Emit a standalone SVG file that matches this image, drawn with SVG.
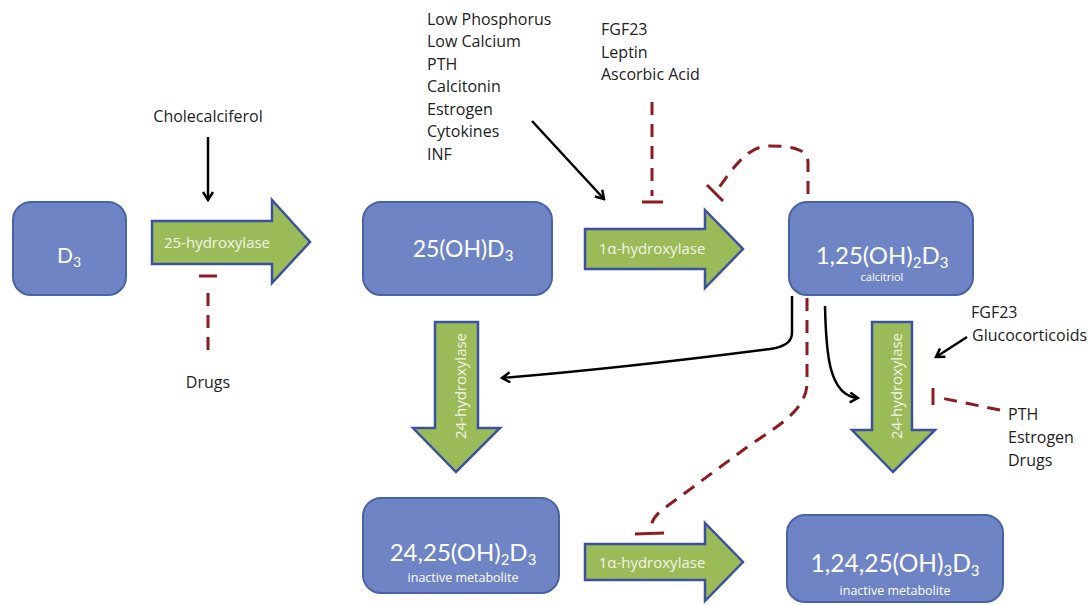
<svg xmlns="http://www.w3.org/2000/svg" width="1091" height="605" viewBox="0 0 1091 605">
<defs>
<style>
.box{fill:#6e84c5;stroke:#4a62a6;stroke-width:2}
.enz{fill:#9bbb59;stroke:#3c52a0;stroke-width:2.5}
.bt{font-family:Lato,"Liberation Sans",sans-serif;fill:#fff;text-anchor:middle}
.st{font-family:"Open Sans","Liberation Sans",sans-serif;fill:#fff;text-anchor:middle}
.et{font-family:"Open Sans","Liberation Sans",sans-serif;fill:#f4f4e4;font-size:15px;text-anchor:middle}
.lbl{font-family:"Open Sans","Liberation Sans",sans-serif;fill:#222;font-size:16px}
.act{fill:none;stroke:#000;stroke-width:2.5}
.inh{fill:none;stroke:#8b1c22;stroke-width:3;stroke-dasharray:13 9}
.tee{fill:none;stroke:#8b1c22;stroke-width:3}
</style>
<marker id="ah" viewBox="0 0 12 12" refX="10" refY="6" markerWidth="12" markerHeight="12" markerUnits="userSpaceOnUse" orient="auto">
<path d="M2,1 L10,6 L2,11" fill="none" stroke="#000" stroke-width="2.5"/>
</marker>
</defs>
<rect width="1091" height="605" fill="#fff"/>

<g id="node-d3">
<rect class="box" x="13" y="202" width="113" height="93" rx="18"/>
<text class="bt" x="69" y="263" font-size="21">D<tspan font-size="14" dy="4">3</tspan></text>
</g>
<g id="node-25ohd3">
<rect class="box" x="363" y="202" width="189" height="93" rx="18"/>
<text class="bt" x="463" y="257" font-size="23">25(OH)D<tspan font-size="15" dy="4">3</tspan></text>
</g>
<g id="node-calcitriol">
<rect class="box" x="789" y="202" width="184" height="93" rx="18"/>
<text class="bt" x="882" y="264" font-size="24">1,25(OH)<tspan font-size="15" dy="4">2</tspan><tspan dy="-4">D</tspan><tspan font-size="15" dy="4">3</tspan></text>
<text class="st" x="882" y="281" font-size="11">calcitriol</text>
</g>
<g id="node-2425">
<rect class="box" x="363" y="498" width="196" height="95" rx="18"/>
<text class="bt" x="463" y="561" font-size="24">24,25(OH)<tspan font-size="15" dy="4">2</tspan><tspan dy="-4">D</tspan><tspan font-size="15" dy="4">3</tspan></text>
<text class="st" x="463" y="582" font-size="12.5">inactive metabolite</text>
</g>
<g id="node-12425">
<rect class="box" x="787" y="515" width="216" height="87" rx="18"/>
<text class="bt" x="895" y="572" font-size="24.5">1,24,25(OH)<tspan font-size="15" dy="4">3</tspan><tspan dy="-4">D</tspan><tspan font-size="15" dy="4">3</tspan></text>
<text class="st" x="895" y="595" font-size="12.5">inactive metabolite</text>
</g>

<g id="enzyme-25hydroxylase">
<polygon class="enz" points="152,221 272,221 272,200 310,242 272,283 272,264 152,264"/>
<text class="et" x="217" y="248">25-hydroxylase</text>
</g>
<g id="enzyme-1a-top">
<polygon class="enz" points="585,229 705,229 705,210 743,249 705,288 705,269 585,269"/>
<text class="et" x="652" y="254">1α-hydroxylase</text>
</g>
<g id="enzyme-1a-bottom">
<polygon class="enz" points="585,544 705,544 705,523 743,562 705,601 705,580 585,580"/>
<text class="et" x="652" y="568">1α-hydroxylase</text>
</g>
<g id="enzyme-24-left">
<polygon class="enz" points="435,322 478,322 478,428 500,428 456,472 413,428 435,428"/>
<text class="et" transform="translate(466,386) rotate(-90)">24-hydroxylase</text>
</g>
<g id="enzyme-24-right">
<polygon class="enz" points="872,322 912,322 912,430 935,430 893,472 852,430 872,430"/>
<text class="et" transform="translate(902,386) rotate(-90)">24-hydroxylase</text>
</g>

<g id="labels">
<text class="lbl" x="208" y="122" text-anchor="middle">Cholecalciferol</text>
<text class="lbl" x="208" y="388" text-anchor="middle">Drugs</text>
<text class="lbl" x="427">
<tspan x="427" y="25">Low Phosphorus</tspan>
<tspan x="427" y="47">Low Calcium</tspan>
<tspan x="427" y="70">PTH</tspan>
<tspan x="427" y="92">Calcitonin</tspan>
<tspan x="427" y="115">Estrogen</tspan>
<tspan x="427" y="137">Cytokines</tspan>
<tspan x="427" y="160">INF</tspan>
</text>
<text class="lbl">
<tspan x="601" y="35">FGF23</tspan>
<tspan x="601" y="58">Leptin</tspan>
<tspan x="601" y="80">Ascorbic Acid</tspan>
</text>
<text class="lbl">
<tspan x="971" y="318">FGF23</tspan>
<tspan x="972" y="341">Glucocorticoids</tspan>
</text>
<text class="lbl">
<tspan x="1008" y="420">PTH</tspan>
<tspan x="1008" y="443">Estrogen</tspan>
<tspan x="1008" y="466">Drugs</tspan>
</text>
</g>

<g id="connectors">
<line class="act" x1="208" y1="137" x2="208" y2="200" marker-end="url(#ah)"/>
<path class="inh" d="M208,350 V284"/>
<line class="tee" x1="199" y1="276" x2="217" y2="276"/>

<line class="act" x1="532" y1="121" x2="604" y2="199" marker-end="url(#ah)"/>
<path class="inh" d="M652,102 V196"/>
<line class="tee" x1="642" y1="202" x2="663" y2="202"/>

<path class="inh" d="M808,194 V163 C808,150 795,146 770,146 C750,146 738,160 716,192"/>
<line class="tee" x1="707" y1="185" x2="723" y2="201"/>

<path class="act" d="M792,296 V333 Q792,346 770,349 C700,358 600,370 502,378" marker-end="url(#ah)"/>
<path class="act" d="M825,306 C826,350 828,396 858,398" marker-end="url(#ah)"/>
<path class="inh" d="M807,298 V385 C805,410 780,425 750,445 L662,510 Q652,518 651,527"/>
<line class="tee" x1="635" y1="534" x2="664" y2="533"/>

<line class="act" x1="967" y1="337" x2="936" y2="357" marker-end="url(#ah)"/>
<path class="inh" d="M1000,410 L941,398"/>
<line class="tee" x1="933" y1="388" x2="933" y2="405"/>
</g>
</svg>
